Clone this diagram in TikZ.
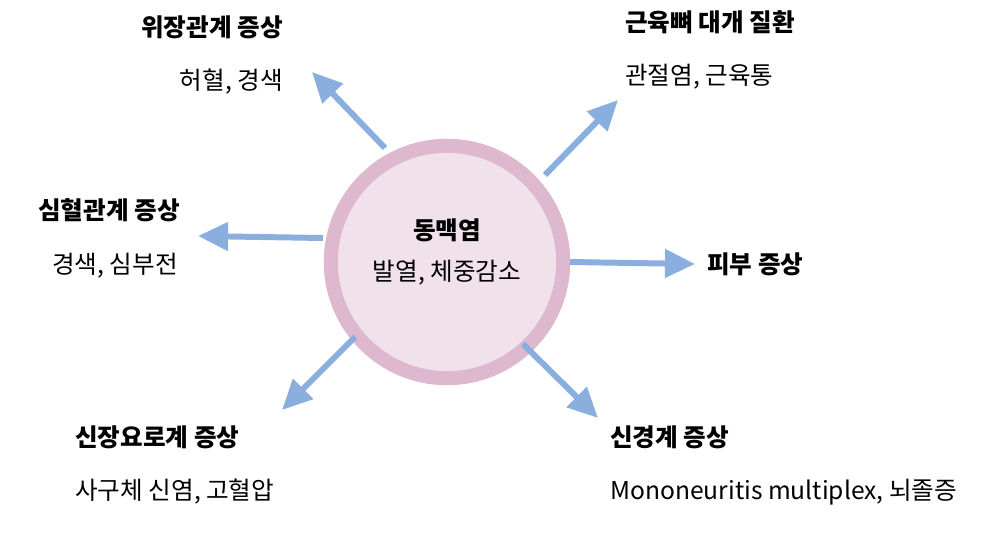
\documentclass[tikz,border=0pt]{standalone}
\usepackage{fontspec}
\setmainfont{Noto Sans CJK KR}
\usetikzlibrary{arrows.meta}
\definecolor{ring}{HTML}{DDB8CF}
\definecolor{core}{HTML}{F0E1EA}
\definecolor{arr}{HTML}{8AAEDD}
\begin{document}
\begin{tikzpicture}[x=0.02cm,y=-0.02cm,
  ar/.style={draw=arr,line width=3.4pt,-{Triangle[length=0.6cm,width=0.55cm]}},
  hd/.style={font=\fontsize{14}{16}\selectfont\bfseries,inner sep=0pt},
  tx/.style={font=\fontsize{14}{16}\selectfont,inner sep=0pt}]
\useasboundingbox (0,0) rectangle (1004,534);
\node[circle,fill=core,draw=ring,line width=8pt,minimum size=4.65cm] (c) at (447,262) {};
\node[hd] (m) at (447,230) {동맥염};
\node[tx] (m2) at (447,273) {발열, 체중감소};
\foreach \n/\a/\b/\c/\d in {tl/385/148/312/72, tr/545/175/618/100, l/323/238/198/236, r/570/262/695/264, bl/355/337/282/410, br/523/344/598/418}{
  \coordinate (\n s) at (\a,\b); \coordinate (\n e) at (\c,\d);
  \draw[ar] (\n s) -- (\n e);}
\node[hd,anchor=east] (a1) at (283,27) {위장관계 증상};
\node[tx,anchor=east] (a2) at (283,82) {허혈, 경색};
\node[hd,anchor=west] (b1) at (625,22) {근육뼈 대개 질환};
\node[tx,anchor=west] (b2) at (625,77) {관절염, 근육통};
\node[hd,anchor=east] (c1) at (180,210) {심혈관계 증상};
\node[tx,anchor=east] (c2) at (178,266) {경색, 심부전};
\node[hd,anchor=west] (d1) at (707,264) {피부 증상};
\node[hd,anchor=west] (e1) at (75,437) {신장요로계 증상};
\node[tx,anchor=west] (e2) at (75,492) {사구체 신염, 고혈압};
\node[hd,anchor=west] (f1) at (610,437) {신경계 증상};
\node[tx,anchor=west] (f2) at (610,492) {Mononeuritis multiplex, 뇌졸증};
\end{tikzpicture}
\end{document}
